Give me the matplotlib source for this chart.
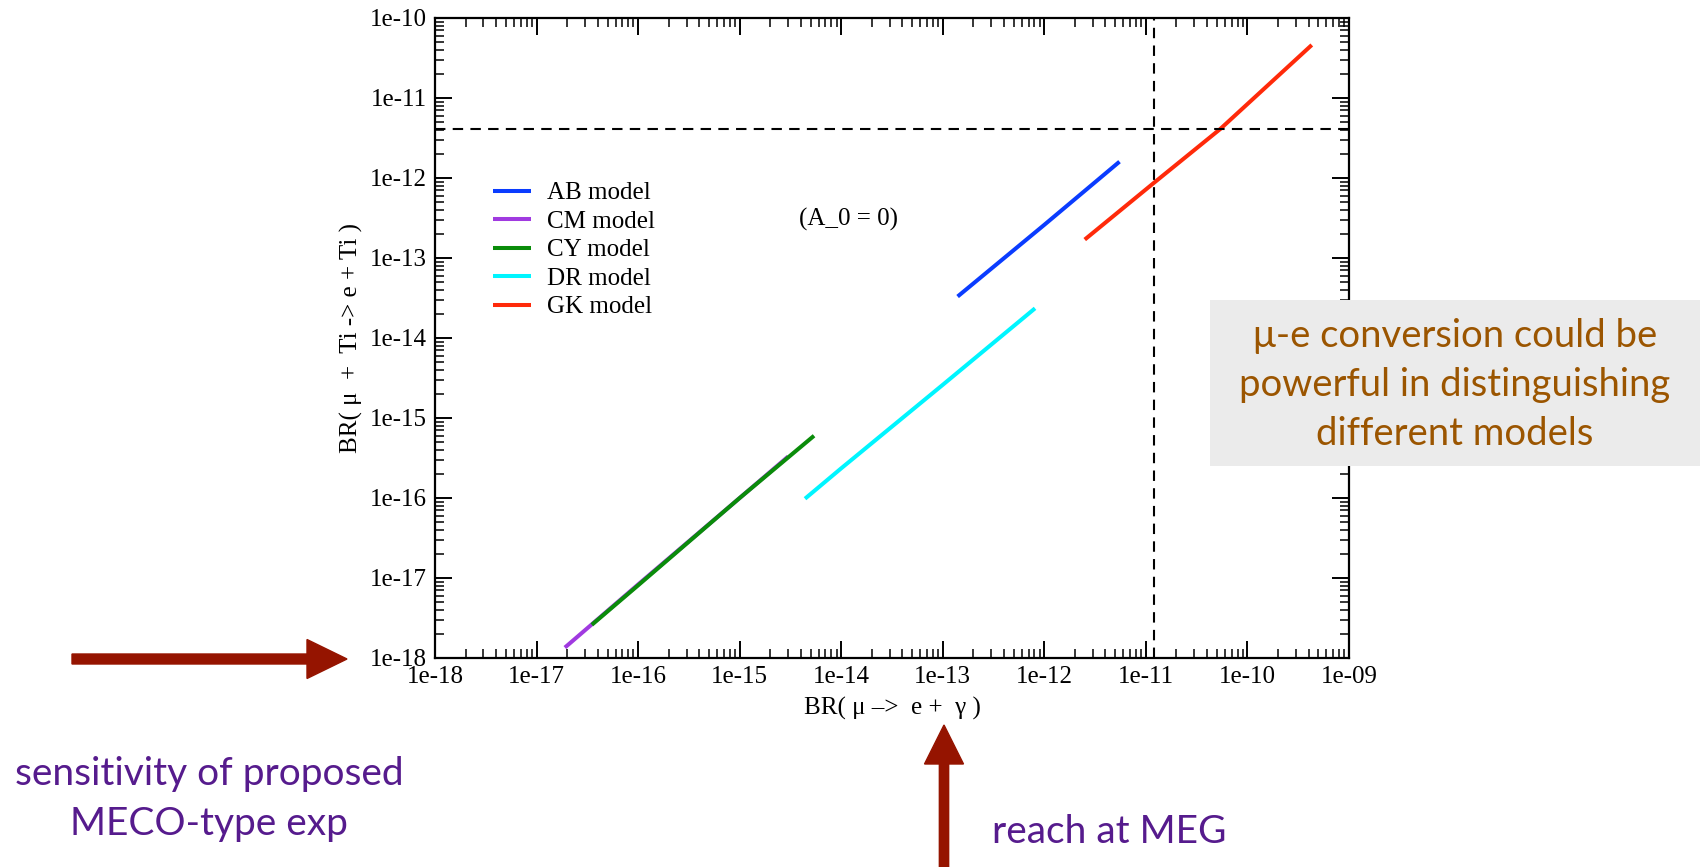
import matplotlib
matplotlib.use("Agg")
import matplotlib.pyplot as plt
from matplotlib.patches import Rectangle, FancyArrow
from matplotlib.ticker import LogLocator, NullFormatter, FixedLocator

# ---- data ----
models = ["AB model", "CM model", "CY model", "DR model", "GK model"]
colors = ["#0a3cff", "#a03ae0", "#0a8c0a", "#00f5ff", "#ff2a0a"]

ab_x = [1.4e-13, 1.0e-12, 5.5e-12]
ab_y = [3.3e-14, 2.6e-13, 1.6e-12]
cm_x = [1.9e-17, 1.0e-16, 1.0e-15, 3.0e-15]
cm_y = [1.35e-18, 8.3e-18, 1.0e-16, 3.3e-16]
cy_x = [3.5e-17, 1.0e-16, 1.0e-15, 5.4e-15]
cy_y = [2.6e-18, 8.1e-18, 1.0e-16, 6.0e-16]
dr_x = [4.4e-15, 1.0e-14, 1.0e-13, 8.1e-13]
dr_y = [9.8e-17, 2.35e-16, 2.6e-15, 2.35e-14]
gk_x = [2.5e-12, 1.2e-11, 5.4e-11, 4.3e-10]
gk_y = [1.7e-13, 8.7e-13, 4.1e-12, 4.6e-11]

meg_limit_x = 1.2e-11
mu_e_limit_y = 4.1e-12

xticks = [1e-18, 1e-17, 1e-16, 1e-15, 1e-14, 1e-13, 1e-12, 1e-11, 1e-10, 1e-9]
xticklabels = ["1e-18", "1e-17", "1e-16", "1e-15", "1e-14", "1e-13", "1e-12", "1e-11", "1e-10", "1e-09"]
yticks = [1e-18, 1e-17, 1e-16, 1e-15, 1e-14, 1e-13, 1e-12, 1e-11, 1e-10]
yticklabels = ["1e-18", "1e-17", "1e-16", "1e-15", "1e-14", "1e-13", "1e-12", "1e-11", "1e-10"]

series = [(ab_x, ab_y), (cm_x, cm_y), (cy_x, cy_y), (dr_x, dr_y), (gk_x, gk_y)]

serif = ["Liberation Serif", "DejaVu Serif"]
sans = ["Lato", "DejaVu Sans"]

fig = plt.figure(figsize=(17.06, 8.67), dpi=100)
ax = fig.add_axes([435/1706, 1-658/867, 914/1706, 640/867])

for (xs, ys), c, lab in zip(series, colors, models):
    ax.plot(xs, ys, color=c, lw=2.9, label=lab, solid_capstyle="butt")

ax.axvline(meg_limit_x, color="black", lw=1.5, ls=(0, (5, 3.5)))
ax.axhline(mu_e_limit_y, color="black", lw=1.5, ls=(0, (5, 3.5)))

ax.set_xscale("log")
ax.set_yscale("log")
ax.set_xlim(1e-18, 1e-9)
ax.set_ylim(1e-18, 1e-10)
ax.xaxis.set_major_locator(FixedLocator(xticks))
ax.yaxis.set_major_locator(FixedLocator(yticks))
ax.set_xticklabels(xticklabels, fontfamily=serif, fontsize=18)
ax.set_yticklabels(yticklabels, fontfamily=serif, fontsize=18)
ax.xaxis.set_minor_locator(LogLocator(base=10, subs=range(2, 10), numticks=50))
ax.yaxis.set_minor_locator(LogLocator(base=10, subs=range(2, 10), numticks=50))
ax.xaxis.set_minor_formatter(NullFormatter())
ax.yaxis.set_minor_formatter(NullFormatter())
ax.tick_params(which="both", direction="in", top=True, right=True, color="black")
ax.tick_params(which="major", length=12.5, width=1.4, pad=6)
ax.tick_params(which="minor", length=6.5, width=1.1)
for s in ax.spines.values():
    s.set_linewidth(1.6)

ax.set_xlabel("BR( \u03bc \u2013>  e +  \u03b3 )", fontfamily=serif, fontsize=18, labelpad=6)
ax.set_ylabel("BR( \u03bc  +  Ti -> e + Ti )", fontfamily=serif, fontsize=18, labelpad=5)

leg = ax.legend(loc="upper left", bbox_to_anchor=(0.0635, 0.744), frameon=False,
                prop={"family": serif, "size": 18}, borderpad=0, borderaxespad=0,
                labelspacing=0.24, handlelength=1.5, handletextpad=0.65)
for h in leg.get_lines():
    h.set_linewidth(2.9)

ax.text(0.4525, 0.685, "(A_0 = 0)", transform=ax.transAxes, ha="center", va="center",
        fontfamily=serif, fontsize=18)

# grey annotation box
fig.add_artist(Rectangle((1210/1706, 1-466/867), 490/1706, 166/867, transform=fig.transFigure,
                         facecolor="#ebebeb", edgecolor="none", zorder=5))
fig.text(1455/1706, 1-385/867, "\u03bc-e conversion could be\npowerful in distinguishing\ndifferent models",
         ha="center", va="center", color="#9b5500", fontfamily=sans, fontsize=27.5,
         linespacing=1.45, zorder=6)

# arrows (figure inches)
arrow_col = "#951400"
fig.add_artist(FancyArrow(72/100, (867-659)/100, (347-72)/100, 0, width=0.10, head_width=0.39,
                          head_length=0.40, length_includes_head=True, color=arrow_col,
                          transform=fig.dpi_scale_trans, zorder=5))
fig.add_artist(FancyArrow(944/100, -0.2, 0, (867-725)/100 + 0.2, width=0.093, head_width=0.39,
                          head_length=0.39, length_includes_head=True, color=arrow_col,
                          transform=fig.dpi_scale_trans, zorder=5))

purple = "#561b8d"
fig.text(209/1706, 1-799/867, "sensitivity of proposed\nMECO-type exp", ha="center", va="center",
         color=purple, fontfamily=sans, fontsize=28, linespacing=1.45)
fig.text(1109/1706, 1-832/867, "reach at MEG", ha="center", va="center",
         color=purple, fontfamily=sans, fontsize=28)

fig.savefig("out.png", dpi=100)
